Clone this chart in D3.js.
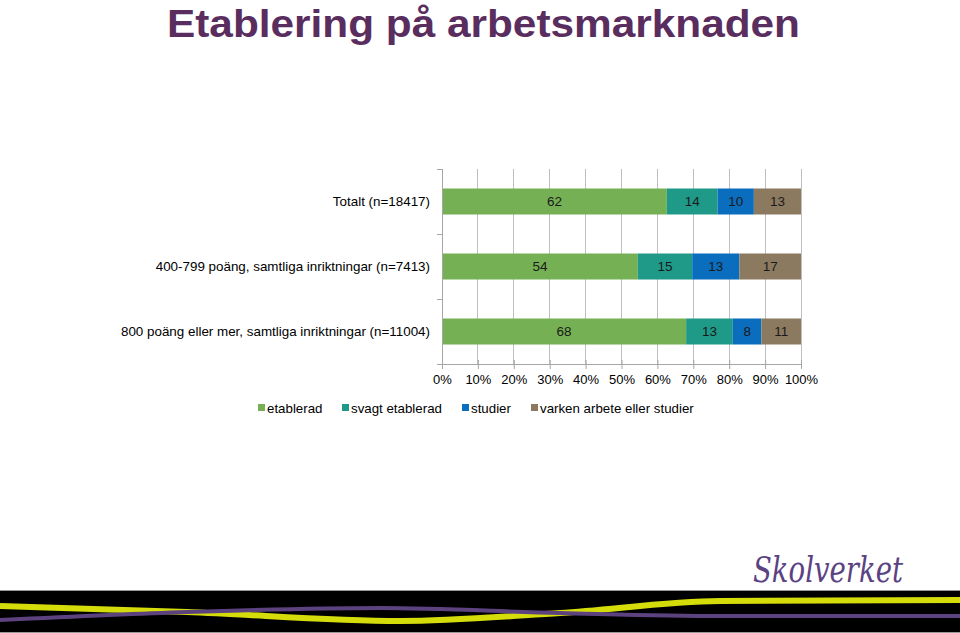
<!DOCTYPE html>
<html>
<head>
<meta charset="utf-8">
<script src="https://cdn.jsdelivr.net/npm/d3@7/dist/d3.min.js"></script>
<style>
  html, body { margin: 0; padding: 0; background: #fff; }
  svg { display: block; }
  text { font-family: "Liberation Sans", Arial, sans-serif; }
</style>
</head>
<body>
<svg id="chart" width="960" height="633"></svg>
<script>
// ---- data ----
const title = "Etablering på arbetsmarknaden";
const categories = [
  "Totalt (n=18417)",
  "400-799 poäng, samtliga inriktningar (n=7413)",
  "800 poäng eller mer, samtliga inriktningar (n=11004)"
];
const seriesNames = ["etablerad", "svagt etablerad", "studier", "varken arbete eller studier"];
const etablerad = [62, 54, 68];
const svagtEtablerad = [14, 15, 13];
const studier = [10, 13, 8];
const varken = [13, 17, 11];
const tickValues = [0, 10, 20, 30, 40, 50, 60, 70, 80, 90, 100];
const tickLabels = ["0%", "10%", "20%", "30%", "40%", "50%", "60%", "70%", "80%", "90%", "100%"];
const colors = ["#76B054", "#1F9988", "#0B6DBE", "#8C7A60"];
// decorative footer swoosh (not data)
const yellowPath = [[0,606],[187,612],[400,621],[560,613],[720,601],[960,600]];
const purplePath = [[0,620],[187,612],[380,608],[560,613],[720,616],[960,616]];

// ---- build ----
const svg = d3.select("#chart");
const seriesValues = [etablerad, svagtEtablerad, studier, varken];
const rows = categories.map((c, i) => {
  const r = { cat: c };
  seriesNames.forEach((s, j) => r[s] = seriesValues[j][i]);
  return r;
});
const stack = d3.stack().keys(seriesNames).offset(d3.stackOffsetExpand);
const stacked = stack(rows);

const x = d3.scaleLinear().domain([0, 1]).range([442, 801]);
const xPct = d3.scaleLinear().domain([0, 100]).range([442, 801]);
const y = d3.scaleBand().domain(categories).range([169, 364]).paddingInner(0.6).paddingOuter(0.3);

// title
svg.append("text")
  .attr("x", 167).attr("y", 36.5)
  .attr("textLength", 633).attr("lengthAdjust", "spacingAndGlyphs")
  .style("font-size", "39px").style("font-weight", "bold")
  .attr("fill", "#5A2D5F")
  .text(title);

// gridlines
const grid = svg.append("g").attr("class", "grid");
grid.selectAll("line").data(tickValues.slice(1)).join("line")
  .attr("x1", d => xPct(d)).attr("x2", d => xPct(d))
  .attr("y1", 169).attr("y2", 364)
  .attr("stroke", "#BFBFBF").attr("stroke-width", 1).attr("shape-rendering", "crispEdges");

// bars
const layers = svg.append("g").selectAll("g").data(stacked).join("g")
  .attr("fill", (d, i) => colors[i]);
layers.selectAll("rect").data(d => d.map(v => Object.assign(v, { key: d.key }))).join("rect")
  .attr("x", d => x(d[0]))
  .attr("width", d => x(d[1]) - x(d[0]))
  .attr("y", d => y(d.data.cat))
  .attr("height", y.bandwidth());

// value labels
layers.selectAll("text").data(d => d).join("text")
  .attr("x", d => (x(d[0]) + x(d[1])) / 2)
  .attr("y", d => y(d.data.cat) + y.bandwidth() / 2 + 4.5)
  .attr("text-anchor", "middle")
  .attr("fill", "#1a1a1a")
  .style("font-size", "13.5px")
  .text(d => d.data[d.key]);

// x axis
const xAxis = d3.axisBottom(xPct).tickValues(tickValues).tickFormat((d, i) => tickLabels[i]).tickSize(5).tickPadding(6);
const gx = svg.append("g").attr("transform", "translate(0,364)").call(xAxis);
gx.select(".domain").attr("stroke", "#A6A6A6");
gx.selectAll(".tick line").attr("stroke", "#A6A6A6").attr("y1", -4);
gx.selectAll(".tick text").style("font-size", "13px").attr("fill", "#000")
  .style("font-family", "'Liberation Sans', Arial, sans-serif");

// y axis line with boundary ticks
const gy = svg.append("g");
gy.append("line").attr("x1", 442).attr("x2", 442).attr("y1", 169).attr("y2", 364)
  .attr("stroke", "#A6A6A6").attr("shape-rendering", "crispEdges");
const bounds = d3.range(categories.length + 1).map(i => 169 + i * y.step());
gy.selectAll(".yt").data(bounds).join("line").attr("class", "yt")
  .attr("x1", 437).attr("x2", 442).attr("y1", d => d).attr("y2", d => d)
  .attr("stroke", "#A6A6A6").attr("shape-rendering", "crispEdges");

// category labels
svg.append("g").selectAll("text").data(categories).join("text")
  .attr("x", 430)
  .attr("y", d => y(d) + y.bandwidth() / 2 + 4.5)
  .attr("text-anchor", "end")
  .style("font-size", "13.4px").attr("fill", "#000")
  .text(d => d);

// legend
const legendX = [258, 342, 462, 531];
const lg = svg.append("g").selectAll("g").data(seriesNames).join("g")
  .attr("transform", (d, i) => `translate(${legendX[i]},408)`);
lg.append("rect").attr("x", 0).attr("y", -4).attr("width", 7).attr("height", 7)
  .attr("fill", (d, i) => colors[i]);
lg.append("text").attr("x", 9).attr("y", 4.5)
  .style("font-size", "13.3px").attr("fill", "#000").text(d => d);

// logo
svg.append("text")
  .attr("x", 753).attr("y", 582)
  .attr("textLength", 150).attr("lengthAdjust", "spacingAndGlyphs")
  .style("font-family", "'DejaVu Serif', 'Liberation Serif', serif")
  .style("font-style", "italic")
  .style("font-size", "35px")
  .attr("fill", "#5B4282")
  .text("Skolverket");

// footer band
svg.append("rect").attr("x", 0).attr("y", 591).attr("width", 960).attr("height", 41).attr("fill", "#000");
svg.append("line").attr("x1", 0).attr("x2", 960).attr("y1", 590.5).attr("y2", 590.5).attr("stroke", "#9a9a9a");
svg.append("line").attr("x1", 0).attr("x2", 960).attr("y1", 632.5).attr("y2", 632.5).attr("stroke", "#9a9a9a");
const line = d3.line().curve(d3.curveMonotoneX);
svg.append("path").attr("d", line(yellowPath)).attr("fill", "none").attr("stroke", "#D4DC0A").attr("stroke-width", 6);
svg.append("path").attr("d", line(purplePath)).attr("fill", "none").attr("stroke", "#5D4280").attr("stroke-width", 4);
</script>
</body>
</html>
